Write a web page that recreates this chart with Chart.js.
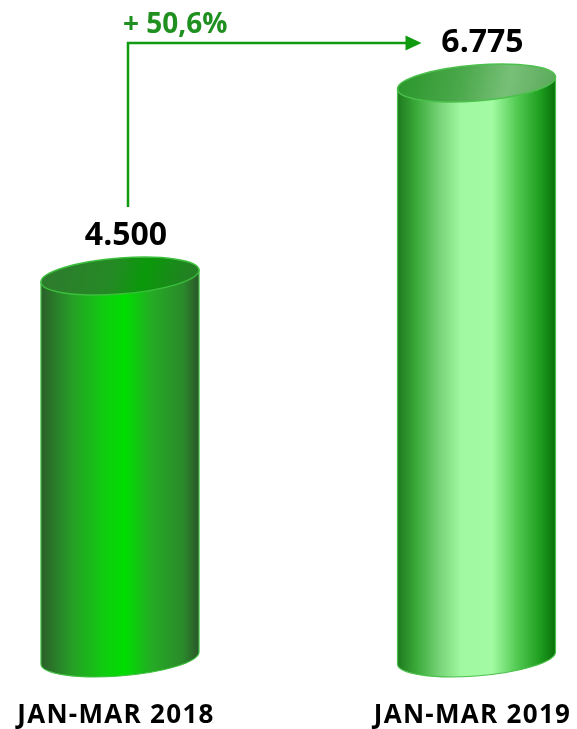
<!DOCTYPE html>
<html>
<head>
<meta charset="utf-8">
<script src="https://cdn.jsdelivr.net/npm/chart.js@4.4.1/dist/chart.umd.min.js"></script>
<style>
  html, body { margin: 0; padding: 0; background: #fff; }
  canvas { display: block; }
</style>
</head>
<body>
<canvas id="cylChart" width="577" height="729"></canvas>
<script>
// ========================= Dados =========================
const categories = ['JAN-MAR 2018', 'JAN-MAR 2019'];
const values = [4500, 6775];

// ========================= Cores =========================
const bodyStops = [
  [[0, '#2b5e2b'], [0.2, '#27a027'], [0.4, '#10cc10'], [0.53, '#00dd00'], [0.7, '#25ab25'], [0.9, '#2a8a2a'], [1, '#2b552b']],
  [[0, '#1e7a1e'], [0.12, '#3aaa3a'], [0.28, '#7cd87c'], [0.4, '#a0f8a0'], [0.6, '#a2fba2'], [0.75, '#55cc55'], [0.9, '#1f9f1f'], [1, '#0a700a']]
];
const topStops = [
  [[0, '#2f7a2f'], [0.45, '#248a24'], [0.65, '#0a990a'], [1, '#2a7a2a']],
  [[0, '#2a962a'], [0.4, '#4aa84a'], [0.7, '#78c078'], [1, '#58a858']]
];
const rimColor = ['#3cbf3c', '#4cc04c'];

function fmt(v) {
  return v.toString().replace(/\B(?=(\d{3})+(?!\d))/g, '.');
}

function gradient(ctx, x0, y0, x1, y1, stops) {
  const g = ctx.createLinearGradient(x0, y0, x1, y1);
  stops.forEach(s => g.addColorStop(s[0], s[1]));
  return g;
}

// ========================= Plugin: cilindros + rótulos + seta =========================
const cylinderPlugin = {
  id: 'cylinders',
  afterDatasetsDraw(chart) {
    const ctx = chart.ctx;
    const bars = chart.getDatasetMeta(0).data;

    bars.forEach((bar, i) => {
      const a = bar.width / 2, b = 18, k = 0.075;
      const ty = bar.y, by = bar.base;
      ctx.save();
      ctx.translate(bar.x, 0);
      ctx.transform(1, -k, 0, 1, 0, 0);

      // corpo
      ctx.beginPath();
      ctx.moveTo(-a, ty);
      ctx.lineTo(-a, by);
      ctx.ellipse(0, by, a, b, 0, Math.PI, 0, true);
      ctx.lineTo(a, ty);
      ctx.closePath();
      ctx.fillStyle = gradient(ctx, -a, 0, a, 0, bodyStops[i]);
      ctx.fill();
      ctx.lineWidth = 1.2;
      ctx.strokeStyle = rimColor[i];
      ctx.stroke();

      // topo
      ctx.beginPath();
      ctx.ellipse(0, ty, a, b, 0, 0, Math.PI * 2);
      ctx.fillStyle = gradient(ctx, -a, ty - b, a, ty + b, topStops[i]);
      ctx.fill();
      ctx.lineWidth = 1.5;
      ctx.stroke();
      ctx.restore();

      ctx.save();
      ctx.fillStyle = '#000';
      ctx.textAlign = 'center';
      ctx.textBaseline = 'alphabetic';
      // valor
      ctx.font = 'bold 32px "Open Sans"';
      ctx.fillText(fmt(values[i]), bar.x + 6, ty - 31);
      // categoria
      ctx.font = 'bold 26px "Open Sans"';
      ctx.letterSpacing = '1.3px';
      ctx.fillText(categories[i], bar.x - 4, 723);
      ctx.restore();
    });

    // seta de variação
    const p0 = bars[0], p1 = bars[1];
    const x0 = p0.x + 8, y0 = p0.y - 69;
    const yc = p1.y - 40, x1 = p1.x - 55;
    ctx.save();
    ctx.strokeStyle = '#0f9a0f';
    ctx.fillStyle = '#0f9a0f';
    ctx.lineWidth = 2.5;
    ctx.beginPath();
    ctx.moveTo(x0, y0);
    ctx.lineTo(x0, yc);
    ctx.lineTo(x1 - 14, yc);
    ctx.stroke();
    ctx.beginPath();
    ctx.moveTo(x1, yc);
    ctx.lineTo(x1 - 16, yc - 7.5);
    ctx.lineTo(x1 - 16, yc + 7.5);
    ctx.closePath();
    ctx.fill();

    const change = ((values[1] / values[0] - 1) * 100).toFixed(1).replace('.', ',');
    ctx.font = 'bold 28px "Open Sans"';
    ctx.fillStyle = '#1f8f1f';
    ctx.textAlign = 'left';
    ctx.textBaseline = 'alphabetic';
    ctx.fillText('+ ' + change + '%', x0 - 5, yc - 10);
    ctx.restore();
  }
};

// ========================= Gráfico =========================
function renderChart() {
  new Chart(document.getElementById('cylChart').getContext('2d'), {
    type: 'bar',
    data: {
      labels: categories,
      datasets: [{ data: values, backgroundColor: 'rgba(0,0,0,0)', barThickness: 158 }]
    },
    options: {
      responsive: false,
      animation: false,
      layout: { padding: { top: 21.5, left: 120, right: 100.5, bottom: 71 } },
      plugins: { legend: { display: false }, tooltip: { enabled: false } },
      scales: {
        x: { display: false, offset: false },
        y: { display: false, min: 0, max: 7500 }
      }
    },
    plugins: [cylinderPlugin]
  });
}

window.addEventListener('DOMContentLoaded', renderChart);
</script>
</body>
</html>
